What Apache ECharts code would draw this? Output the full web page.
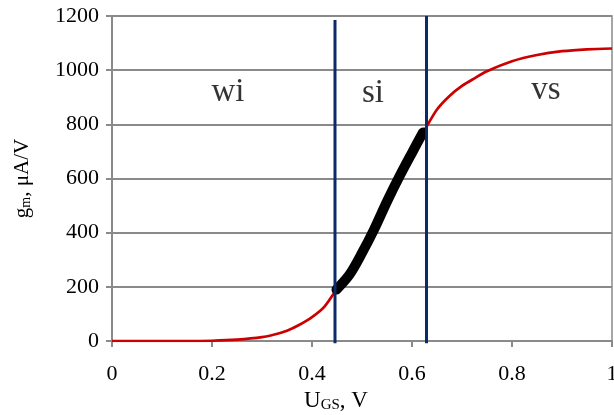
<!DOCTYPE html>
<html>
<head>
<meta charset="utf-8">
<script src="https://cdn.jsdelivr.net/npm/echarts@6/dist/echarts.min.js"></script>
<style>html,body{margin:0;padding:0;background:#fff}#c{width:614px;height:415px}</style>
</head>
<body>
<div id="c"></div>
<script>
// gm (µA/V) vs UGS (V)
const ugs = [0, 0.05, 0.1, 0.15, 0.2, 0.25, 0.3, 0.325, 0.35, 0.375, 0.4, 0.425, 0.45, 0.475, 0.5, 0.525, 0.55, 0.575, 0.6, 0.625, 0.65, 0.675, 0.7, 0.725, 0.75, 0.8, 0.85, 0.9, 0.95, 1.0];
const gm  = [0, 0, 0, 0, 1, 5, 14, 24, 38, 60, 88, 127, 192, 245, 325, 415, 515, 608, 695, 778, 855, 905, 942, 970, 996, 1033, 1056, 1070, 1077, 1080];
// strong-inversion highlighted segment
const siX  = [0.449, 0.475, 0.5, 0.525, 0.55, 0.575, 0.6, 0.622];
const siY  = [190, 245, 325, 415, 515, 608, 695, 770];
// region boundaries
const boundaryX = [0.446, 0.629];
const boundaryTop = [1185, 1200];
// region names
const regionNames = ['wi', 'si', 'vs'];
const regionX = [0.232, 0.522, 0.868];
const regionY = [920, 914, 925];
// tick labels
const xTicks = [0, 0.2, 0.4, 0.6, 0.8, 1];
const yTicks = [0, 200, 400, 600, 800, 1000, 1200];

const serif = '"Liberation Serif", "Times New Roman", serif';
const chart = echarts.init(document.getElementById('c'));
const series = [
  {
    type: 'line', data: ugs.map((x, i) => [x, gm[i]]), smooth: 0.3, showSymbol: false,
    lineStyle: { color: '#cc0000', width: 2.7 }, z: 2
  },
  {
    type: 'line', data: siX.map((x, i) => [x, siY[i]]), smooth: 0.3, showSymbol: false,
    lineStyle: { color: '#000', width: 10, cap: 'round', join: 'round' }, z: 3
  }
];
boundaryX.forEach((bx, i) => {
  series.push({
    type: 'line', data: [[bx, boundaryTop[i]], [bx, -8]], showSymbol: false, clip: false,
    lineStyle: { color: '#0c2a6a', width: 3 }, z: 4
  });
});
series.push({
  type: 'scatter', symbolSize: 0, z: 5,
  data: regionNames.map((n, i) => ({ value: [regionX[i], regionY[i]], name: n })),
  label: { show: true, position: 'inside', formatter: p => p.name, color: '#000', fontFamily: serif, fontSize: 33 }
});

chart.setOption({
  animation: false,
  grid: { left: 112, right: 2, top: 16, bottom: 74, outerBoundsMode: 'none', containLabel: false,
    show: true, borderColor: '#8a8a8a', borderWidth: 1.5 },
  xAxis: {
    type: 'value', min: 0, max: 1, interval: 0.2,
    name: 'U{sub|GS}, V', nameLocation: 'middle', nameGap: 43,
    nameTextStyle: { fontFamily: serif, fontSize: 23, color: '#000', padding: [0, 52, 0, 0],
      rich: { sub: { fontFamily: serif, fontSize: 15, color: '#000', padding: [8, 0, 0, 0] } } },
    axisLine: { lineStyle: { color: '#8a8a8a', width: 2 } },
    axisTick: { show: true, length: 6, lineStyle: { color: '#8a8a8a', width: 2 } },
    axisLabel: { fontFamily: serif, fontSize: 22, color: '#000', margin: 22,
      formatter: v => { const t = xTicks.find(k => Math.abs(k - v) < 1e-9); return t === undefined ? '' : String(t); } },
    splitLine: { show: false }
  },
  yAxis: {
    type: 'value', min: 0, max: 1200, interval: 200,
    name: 'g{sub|m}, μA/V', nameLocation: 'middle', nameGap: 79, nameRotate: 90,
    nameTextStyle: { fontFamily: serif, fontSize: 21, color: '#000',
      rich: { sub: { fontFamily: serif, fontSize: 14, color: '#000', padding: [8, 0, 0, 0] } } },
    axisLine: { show: true, lineStyle: { color: '#8a8a8a', width: 2 } },
    axisTick: { show: true, length: 6, lineStyle: { color: '#8a8a8a', width: 2 } },
    axisLabel: { fontFamily: serif, fontSize: 22, color: '#000', margin: 13,
      formatter: v => { const t = yTicks.find(k => k === v); return t === undefined ? '' : String(t); } },
    splitLine: { show: true, lineStyle: { color: '#8a8a8a', width: 2 } }
  },
  series: series
});
</script>
</body>
</html>
